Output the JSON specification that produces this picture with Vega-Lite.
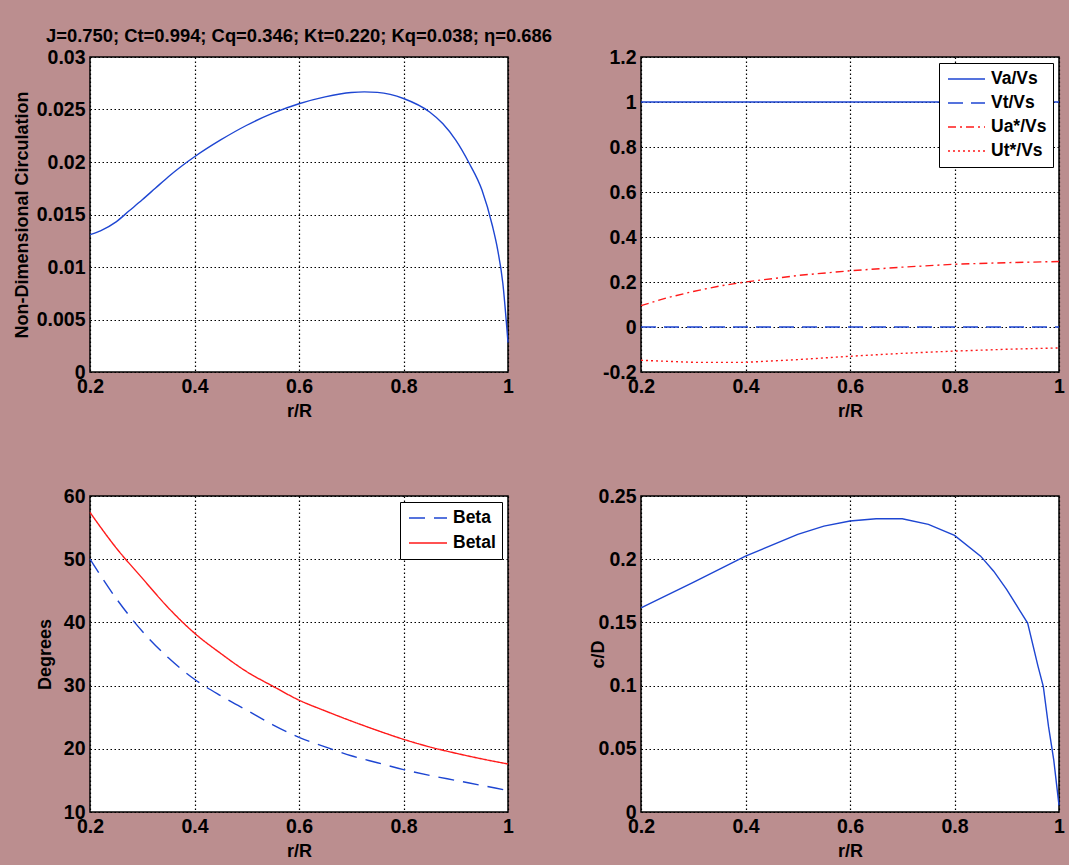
{
  "$schema": "https://vega.github.io/schema/vega-lite/v6.json",
  "background": "#bb8e8f",
  "padding": {"left": 12, "top": 25, "right": 8, "bottom": 4},
  "datasets": {
    "circ": [
      {"r": 0.2, "g": 0.01309}, {"r": 0.22, "g": 0.01345}, {"r": 0.25, "g": 0.0143},
      {"r": 0.275, "g": 0.01535}, {"r": 0.3, "g": 0.0164}, {"r": 0.325, "g": 0.0175},
      {"r": 0.35, "g": 0.0186}, {"r": 0.375, "g": 0.0196}, {"r": 0.4, "g": 0.0205},
      {"r": 0.45, "g": 0.0221}, {"r": 0.5, "g": 0.0235}, {"r": 0.55, "g": 0.02465},
      {"r": 0.6, "g": 0.02555}, {"r": 0.65, "g": 0.0262}, {"r": 0.7, "g": 0.02662},
      {"r": 0.725, "g": 0.02668}, {"r": 0.75, "g": 0.02663}, {"r": 0.8, "g": 0.02605},
      {"r": 0.85, "g": 0.02476}, {"r": 0.875, "g": 0.02366}, {"r": 0.9, "g": 0.02208},
      {"r": 0.925, "g": 0.01995}, {"r": 0.95, "g": 0.01735}, {"r": 0.97, "g": 0.01395},
      {"r": 0.98, "g": 0.0117}, {"r": 0.99, "g": 0.0085}, {"r": 1.0, "g": 0.0028}
    ],
    "vel": [
      {"r": 0.2, "v": 1, "s": "Va/Vs"}, {"r": 0.4, "v": 1, "s": "Va/Vs"}, {"r": 0.6, "v": 1, "s": "Va/Vs"}, {"r": 0.8, "v": 1, "s": "Va/Vs"}, {"r": 1.0, "v": 1, "s": "Va/Vs"},
      {"r": 0.2, "v": 0, "s": "Vt/Vs"}, {"r": 0.4, "v": 0, "s": "Vt/Vs"}, {"r": 0.6, "v": 0, "s": "Vt/Vs"}, {"r": 0.8, "v": 0, "s": "Vt/Vs"}, {"r": 1.0, "v": 0, "s": "Vt/Vs"},
      {"r": 0.2, "v": 0.095, "s": "Ua*/Vs"}, {"r": 0.25, "v": 0.13, "s": "Ua*/Vs"}, {"r": 0.3, "v": 0.158, "s": "Ua*/Vs"},
      {"r": 0.35, "v": 0.182, "s": "Ua*/Vs"}, {"r": 0.4, "v": 0.2, "s": "Ua*/Vs"}, {"r": 0.5, "v": 0.229, "s": "Ua*/Vs"},
      {"r": 0.6, "v": 0.25, "s": "Ua*/Vs"}, {"r": 0.7, "v": 0.266, "s": "Ua*/Vs"}, {"r": 0.8, "v": 0.279, "s": "Ua*/Vs"},
      {"r": 0.9, "v": 0.286, "s": "Ua*/Vs"}, {"r": 1.0, "v": 0.291, "s": "Ua*/Vs"},
      {"r": 0.2, "v": -0.148, "s": "Ut*/Vs"}, {"r": 0.3, "v": -0.157, "s": "Ut*/Vs"}, {"r": 0.4, "v": -0.157, "s": "Ut*/Vs"},
      {"r": 0.5, "v": -0.145, "s": "Ut*/Vs"}, {"r": 0.6, "v": -0.13, "s": "Ut*/Vs"}, {"r": 0.7, "v": -0.117, "s": "Ut*/Vs"},
      {"r": 0.8, "v": -0.107, "s": "Ut*/Vs"}, {"r": 0.9, "v": -0.099, "s": "Ut*/Vs"}, {"r": 1.0, "v": -0.093, "s": "Ut*/Vs"}
    ],
    "beta": [
      {"r": 0.2, "d": 50.0, "s": "Beta"}, {"r": 0.25, "d": 43.8, "s": "Beta"}, {"r": 0.3, "d": 38.6, "s": "Beta"},
      {"r": 0.35, "d": 34.4, "s": "Beta"}, {"r": 0.4, "d": 31.0, "s": "Beta"}, {"r": 0.45, "d": 28.4, "s": "Beta"},
      {"r": 0.5, "d": 26.1, "s": "Beta"}, {"r": 0.55, "d": 23.8, "s": "Beta"}, {"r": 0.6, "d": 21.8, "s": "Beta"},
      {"r": 0.65, "d": 20.3, "s": "Beta"}, {"r": 0.7, "d": 18.9, "s": "Beta"}, {"r": 0.75, "d": 17.8, "s": "Beta"},
      {"r": 0.8, "d": 16.7, "s": "Beta"}, {"r": 0.85, "d": 15.8, "s": "Beta"}, {"r": 0.9, "d": 15.0, "s": "Beta"},
      {"r": 0.95, "d": 14.2, "s": "Beta"}, {"r": 1.0, "d": 13.4, "s": "Beta"},
      {"r": 0.2, "d": 57.4, "s": "Betal"}, {"r": 0.25, "d": 51.8, "s": "Betal"}, {"r": 0.3, "d": 47.0, "s": "Betal"},
      {"r": 0.35, "d": 42.3, "s": "Betal"}, {"r": 0.4, "d": 38.3, "s": "Betal"}, {"r": 0.45, "d": 35.1, "s": "Betal"},
      {"r": 0.5, "d": 32.2, "s": "Betal"}, {"r": 0.55, "d": 29.9, "s": "Betal"}, {"r": 0.6, "d": 27.7, "s": "Betal"},
      {"r": 0.65, "d": 26.0, "s": "Betal"}, {"r": 0.7, "d": 24.4, "s": "Betal"}, {"r": 0.75, "d": 22.9, "s": "Betal"},
      {"r": 0.8, "d": 21.5, "s": "Betal"}, {"r": 0.85, "d": 20.3, "s": "Betal"}, {"r": 0.9, "d": 19.3, "s": "Betal"},
      {"r": 0.95, "d": 18.4, "s": "Betal"}, {"r": 1.0, "d": 17.6, "s": "Betal"}
    ],
    "chord": [
      {"r": 0.2, "c": 0.1614}, {"r": 0.3, "c": 0.1817}, {"r": 0.4, "c": 0.2024}, {"r": 0.5, "c": 0.2196},
      {"r": 0.55, "c": 0.2262}, {"r": 0.6, "c": 0.2302}, {"r": 0.65, "c": 0.232}, {"r": 0.7, "c": 0.232},
      {"r": 0.75, "c": 0.2275}, {"r": 0.8, "c": 0.2188}, {"r": 0.85, "c": 0.2024}, {"r": 0.875, "c": 0.1905},
      {"r": 0.9, "c": 0.1759}, {"r": 0.925, "c": 0.1594}, {"r": 0.94, "c": 0.1495}, {"r": 0.96, "c": 0.115},
      {"r": 0.97, "c": 0.0992}, {"r": 0.98, "c": 0.0675}, {"r": 0.99, "c": 0.041}, {"r": 1.0, "c": 0.0053}
    ]
  },
  "columns": 2,
  "spacing": {"row": 124, "column": 133},
  "bounds": "flush",
  "resolve": {"scale": {"color": "independent", "strokeDash": "independent"}, "legend": {"color": "independent", "strokeDash": "independent"}},
  "concat": [
    {
      "width": 418, "height": 315,
      "title": {"text": "J=0.750; Ct=0.994; Cq=0.346; Kt=0.220; Kq=0.038; η=0.686", "fontSize": 18.4, "fontWeight": "bold", "font": "Liberation Sans", "offset": 2, "anchor": "middle", "color": "black"},
      "data": {"name": "circ"},
      "mark": {"type": "line", "color": "#1e46d2", "strokeWidth": 1.4, "interpolate": "monotone"},
      "encoding": {
        "x": {"field": "r", "type": "quantitative", "title": "r/R", "scale": {"domain": [0.2, 1], "nice": false, "zero": false}, "axis": {"values": [0.2, 0.4, 0.6, 0.8, 1]}},
        "y": {"field": "g", "type": "quantitative", "title": "Non-Dimensional Circulation", "scale": {"domain": [0, 0.03], "nice": false, "zero": false}, "axis": {"values": [0, 0.005, 0.01, 0.015, 0.02, 0.025, 0.03], "titleX": -68}}
      }
    },
    {
      "width": 418, "height": 315,
      "data": {"name": "vel"},
      "mark": {"type": "line", "strokeWidth": 1.4},
      "encoding": {
        "x": {"field": "r", "type": "quantitative", "title": "r/R", "scale": {"domain": [0.2, 1], "nice": false, "zero": false}, "axis": {"values": [0.2, 0.4, 0.6, 0.8, 1]}},
        "y": {"field": "v", "type": "quantitative", "title": null, "scale": {"domain": [-0.2, 1.2], "nice": false, "zero": false}, "axis": {"values": [-0.2, 0, 0.2, 0.4, 0.6, 0.8, 1, 1.2]}},
        "color": {"field": "s", "type": "nominal", "scale": {"domain": ["Va/Vs", "Vt/Vs", "Ua*/Vs", "Ut*/Vs"], "range": ["#1e46d2", "#1e46d2", "#ff1a1a", "#ff1a1a"]},
          "legend": {"title": null, "orient": "top-right", "offset": 6, "symbolType": "stroke", "symbolSize": 1369, "symbolStrokeWidth": 1.4, "symbolOffset": 2, "clipHeight": 20, "labelFontSize": 17.5, "labelFontWeight": "bold", "labelFont": "Liberation Sans", "labelColor": "black", "fillColor": "white", "strokeColor": "black", "padding": 6, "rowPadding": 4, "labelOffset": 5}},
        "strokeDash": {"field": "s", "type": "nominal", "scale": {"domain": ["Va/Vs", "Vt/Vs", "Ua*/Vs", "Ut*/Vs"], "range": [[1, 0], [15, 8], [8, 4, 2, 4], [2, 3]]},
          "legend": {"title": null, "orient": "top-right", "offset": 6, "symbolType": "stroke", "symbolSize": 1369, "symbolStrokeWidth": 1.4, "symbolOffset": 2, "clipHeight": 20, "labelFontSize": 17.5, "labelFontWeight": "bold", "labelFont": "Liberation Sans", "labelColor": "black", "fillColor": "white", "strokeColor": "black", "padding": 6, "rowPadding": 4, "labelOffset": 5}}
      }
    },
    {
      "width": 418, "height": 316,
      "data": {"name": "beta"},
      "mark": {"type": "line", "strokeWidth": 1.4, "interpolate": "monotone"},
      "encoding": {
        "x": {"field": "r", "type": "quantitative", "title": "r/R", "scale": {"domain": [0.2, 1], "nice": false, "zero": false}, "axis": {"values": [0.2, 0.4, 0.6, 0.8, 1]}},
        "y": {"field": "d", "type": "quantitative", "title": "Degrees", "scale": {"domain": [10, 60], "nice": false, "zero": false}, "axis": {"values": [10, 20, 30, 40, 50, 60], "titleX": -45}},
        "color": {"field": "s", "type": "nominal", "scale": {"domain": ["Beta", "Betal"], "range": ["#1e46d2", "#ff1a1a"]},
          "legend": {"title": null, "orient": "top-right", "offset": 6, "symbolType": "stroke", "symbolSize": 1444, "symbolStrokeWidth": 1.4, "symbolOffset": 2, "clipHeight": 20, "labelFontSize": 17.5, "labelFontWeight": "bold", "labelFont": "Liberation Sans", "labelColor": "black", "fillColor": "white", "strokeColor": "black", "padding": 6, "rowPadding": 5, "labelOffset": 5}},
        "strokeDash": {"field": "s", "type": "nominal", "scale": {"domain": ["Beta", "Betal"], "range": [[16, 9], [1, 0]]},
          "legend": {"title": null, "orient": "top-right", "offset": 6, "symbolType": "stroke", "symbolSize": 1444, "symbolStrokeWidth": 1.4, "symbolOffset": 2, "clipHeight": 20, "labelFontSize": 17.5, "labelFontWeight": "bold", "labelFont": "Liberation Sans", "labelColor": "black", "fillColor": "white", "strokeColor": "black", "padding": 6, "rowPadding": 5, "labelOffset": 5}}
      }
    },
    {
      "width": 418, "height": 316,
      "data": {"name": "chord"},
      "mark": {"type": "line", "color": "#1e46d2", "strokeWidth": 1.4},
      "encoding": {
        "x": {"field": "r", "type": "quantitative", "title": "r/R", "scale": {"domain": [0.2, 1], "nice": false, "zero": false}, "axis": {"values": [0.2, 0.4, 0.6, 0.8, 1]}},
        "y": {"field": "c", "type": "quantitative", "title": "c/D", "scale": {"domain": [0, 0.25], "nice": false, "zero": false}, "axis": {"values": [0, 0.05, 0.1, 0.15, 0.2, 0.25], "titleX": -43}}
      }
    }
  ],
  "config": {
    "font": "Liberation Sans",
    "view": {"stroke": "black", "strokeWidth": 1.5, "fill": "white"},
    "axis": {
      "domain": false, "ticks": false, "tickSize": 0, "grid": true,
      "gridColor": "black", "gridOpacity": 1, "gridDash": [1.5, 2.5], "gridWidth": 1.2,
      "labelFont": "Liberation Sans", "labelFontSize": 19.5, "labelFontWeight": "bold", "labelColor": "black",
      "titleFont": "Liberation Sans", "titleFontSize": 18, "titleFontWeight": "bold", "titleColor": "black",
      "labelFlush": false, "labelOverlap": false,
      "labelExpr": "replace(format(datum.value, '~g'), '\u2212', '-')"
    },
    "axisX": {"labelPadding": 5, "titleY": 39, "titleBaseline": "middle"},
    "axisY": {"labelPadding": 5, "titleBaseline": "middle"}
  }
}
